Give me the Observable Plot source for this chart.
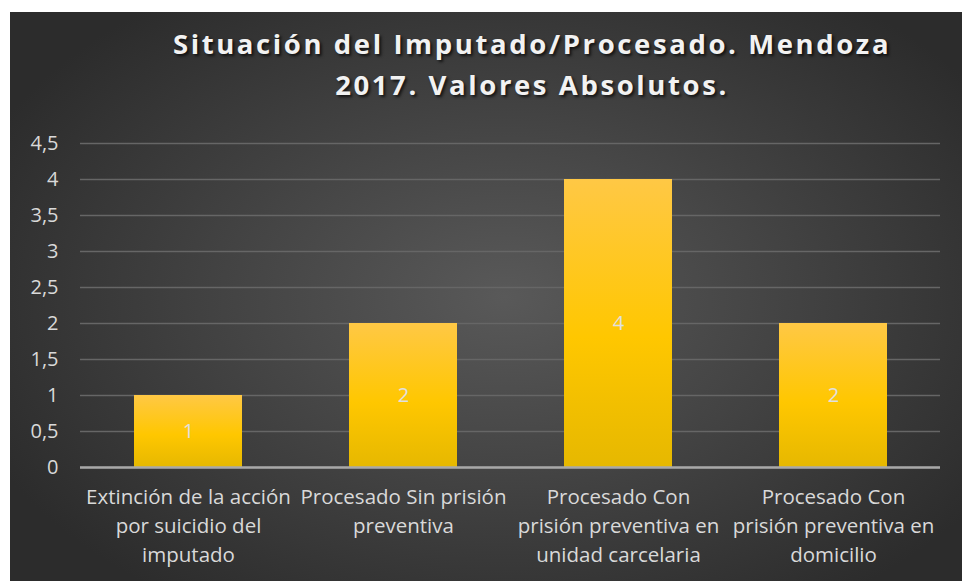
<!DOCTYPE html>
<html>
<head>
<meta charset="utf-8">
<script src="https://cdn.jsdelivr.net/npm/d3@7"></script>
<script src="https://cdn.jsdelivr.net/npm/@observablehq/plot@0.6"></script>
<style>
  html, body { margin: 0; padding: 0; background: #ffffff; }
  #page { position: relative; width: 962px; height: 581px; overflow: hidden; background: #ffffff; }
  #panel {
    position: absolute; left: 10px; top: 12px; width: 952px; height: 569px;
    background: radial-gradient(ellipse 60% 65% at 52% 50%, #595959 0%, #454545 45%, #2c2c2c 100%);
  }
  #title {
    position: absolute; left: 0; top: 23px; width: 1064px; text-align: center;
    font-family: "Open Sans", sans-serif; font-weight: 700; font-size: 27.5px;
    letter-spacing: 2.6px; line-height: 41px; color: #f2f2f2;
    text-shadow: 2px 2px 3px rgba(0,0,0,0.7);
  }
  #chart { position: absolute; left: 0; top: 100px; }
  #chart svg { background: transparent; overflow: visible; }
</style>
</head>
<body>
<div id="page">
  <div id="panel"></div>
  <div id="title">Situación del Imputado/Procesado. Mendoza<br>2017. Valores Absolutos.</div>
  <div id="chart"></div>
</div>
<script>
const categories = [
  "Extinción de la acción por suicidio del imputado",
  "Procesado Sin prisión preventiva",
  "Procesado Con prisión preventiva en unidad carcelaria",
  "Procesado Con prisión preventiva en domicilio"
];
const values = [1, 2, 4, 2];
const tickLabels = [
  "Extinción de la acción\npor suicidio del\nimputado",
  "Procesado Sin prisión\npreventiva",
  "Procesado Con\nprisión preventiva en\nunidad carcelaria",
  "Procesado Con\nprisión preventiva en\ndomicilio"
];
const yTicks = [0, 0.5, 1, 1.5, 2, 2.5, 3, 3.5, 4, 4.5];

const data = categories.map((c, i) => ({category: c, value: values[i]}));
const labelOf = new Map(categories.map((c, i) => [c, tickLabels[i]]));
const fmt = d => String(d).replace(".", ",");

const chart = Plot.plot({
  width: 962,
  height: 481,
  marginTop: 43,
  marginBottom: 114,
  marginLeft: 80,
  marginRight: 22,
  style: {background: "transparent", fontFamily: "'Open Sans', sans-serif", fontSize: "20px", color: "#d9d9d9"},
  x: {domain: categories, paddingInner: 0.5, paddingOuter: 0.25, label: null},
  y: {domain: [0, 4.5], label: null},
  marks: [
    Plot.gridY(yTicks, {stroke: "#666666", strokeOpacity: 1, strokeWidth: 1.5}),
    Plot.barY(data, {x: "category", y: "value", fill: "url(#barGrad)",
      style: {filter: "drop-shadow(3px 2px 3px rgba(0,0,0,0.55))"}}),
    Plot.ruleY([0], {stroke: "#a8a8a8", strokeWidth: 2.5}),
    Plot.text(data, {x: "category", y: d => d.value / 2, text: d => String(d.value),
      fill: "#e0e0e0", fontSize: 20}),
    Plot.axisY(yTicks, {tickSize: 0, tickPadding: 22, tickFormat: fmt, fill: "#d9d9d9", fontSize: 20, label: null}),
    Plot.axisX({tickSize: 0, tickPadding: 16, tickFormat: c => labelOf.get(c), fill: "#d9d9d9",
      fontSize: 20.5, lineHeight: 1.42, label: null})
  ]
});

const ns = "http://www.w3.org/2000/svg";
const defs = document.createElementNS(ns, "defs");
defs.innerHTML = `<linearGradient id="barGrad" x1="0" y1="0" x2="0" y2="1">
  <stop offset="0%" stop-color="#ffc845"/>
  <stop offset="55%" stop-color="#ffc700"/>
  <stop offset="100%" stop-color="#e6b800"/>
</linearGradient>`;
chart.insertBefore(defs, chart.firstChild);
document.getElementById("chart").appendChild(chart);
</script>
</body>
</html>
